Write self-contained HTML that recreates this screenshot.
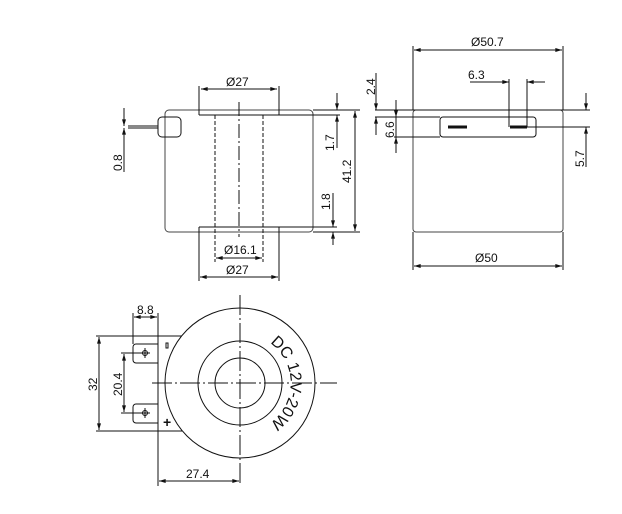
<!DOCTYPE html>
<html><head><style>html,body{margin:0;padding:0;background:#fff}svg{display:block}text{font-family:"Liberation Sans",sans-serif;fill:#111}</style></head>
<body>
<svg width="622" height="514" viewBox="0 0 622 514" xmlns="http://www.w3.org/2000/svg">
<defs>
<marker id="a" viewBox="0 0 10 6" refX="10" refY="3" markerWidth="8" markerHeight="4" orient="auto-start-reverse" markerUnits="userSpaceOnUse"><path d="M0,0L10,3L0,6z" fill="#111"/></marker>
<path id="arc" d="M 270,343 A 49 49 0 0 1 270,423" fill="none"/>
</defs>
<g stroke="#111" stroke-width="1" fill="none">
<rect x="165" y="110" width="148" height="122" rx="4" stroke="#444"/>
<line x1="313" y1="110" x2="360" y2="110"/>
<line x1="199" y1="115" x2="340" y2="115"/>
<line x1="199" y1="227" x2="337" y2="227"/>
<line x1="313" y1="232" x2="360" y2="232"/>
<line x1="199" y1="86" x2="199" y2="115"/><line x1="279" y1="86" x2="279" y2="115"/>
<line x1="199" y1="227" x2="199" y2="281"/><line x1="279" y1="227" x2="279" y2="281"/>
<line x1="215" y1="115" x2="215" y2="262" stroke-dasharray="4,2"/>
<line x1="263" y1="115" x2="263" y2="262" stroke-dasharray="4,2"/>
<line x1="239" y1="102" x2="239" y2="237" stroke-dasharray="14,3,2,3"/>
<line x1="201" y1="89" x2="277" y2="89" marker-start="url(#a)" marker-end="url(#a)"/>
<line x1="216" y1="258" x2="262" y2="258" marker-start="url(#a)" marker-end="url(#a)"/>
<line x1="200" y1="277" x2="278" y2="277" marker-start="url(#a)" marker-end="url(#a)"/>
<line x1="355" y1="111" x2="355" y2="231" marker-start="url(#a)" marker-end="url(#a)"/>
<line x1="337" y1="93" x2="337" y2="110" marker-end="url(#a)"/>
<line x1="337" y1="148" x2="337" y2="115" marker-end="url(#a)"/>
<line x1="333" y1="193" x2="333" y2="227" marker-end="url(#a)"/>
<line x1="333" y1="245" x2="333" y2="232" marker-end="url(#a)"/>
<rect x="158" y="117" width="23" height="20" rx="4"/>
<line x1="128" y1="126" x2="158" y2="126"/><line x1="128" y1="128" x2="158" y2="128"/>
<line x1="124" y1="108" x2="124" y2="126" marker-end="url(#a)"/>
<line x1="124" y1="172" x2="124" y2="128" marker-end="url(#a)"/>
<rect x="413" y="110" width="150" height="122" rx="3" stroke="#444"/>
<line x1="375" y1="110" x2="590" y2="110"/>
<line x1="375" y1="117" x2="440" y2="117"/>
<line x1="394" y1="137" x2="440" y2="137"/>
<line x1="527" y1="127" x2="590" y2="127"/>
<rect x="440" y="117" width="96" height="20" rx="3"/>
<line x1="448" y1="127" x2="467" y2="127" stroke-width="3"/>
<line x1="510" y1="127" x2="527" y2="127" stroke-width="3"/>
<line x1="509" y1="79" x2="509" y2="127"/><line x1="527" y1="79" x2="527" y2="127"/>
<line x1="470" y1="82" x2="509" y2="82" marker-end="url(#a)"/>
<line x1="545" y1="82" x2="527" y2="82" marker-end="url(#a)"/>
<line x1="413" y1="46" x2="413" y2="110"/><line x1="563" y1="46" x2="563" y2="110"/>
<line x1="413" y1="232" x2="413" y2="270"/><line x1="563" y1="232" x2="563" y2="270"/>
<line x1="414" y1="50" x2="562" y2="50" marker-start="url(#a)" marker-end="url(#a)"/>
<line x1="414" y1="266" x2="562" y2="266" marker-start="url(#a)" marker-end="url(#a)"/>
<line x1="376" y1="73" x2="376" y2="110" marker-end="url(#a)"/>
<line x1="376" y1="135" x2="376" y2="117" marker-end="url(#a)"/>
<line x1="396" y1="100" x2="396" y2="117" marker-end="url(#a)"/>
<line x1="396" y1="153" x2="396" y2="137" marker-end="url(#a)"/>
<line x1="396" y1="117" x2="396" y2="137"/>
<line x1="586" y1="93" x2="586" y2="110" marker-end="url(#a)"/>
<line x1="586" y1="167" x2="586" y2="127" marker-end="url(#a)"/>
<circle cx="240" cy="383" r="75"/>
<circle cx="240" cy="383" r="42"/>
<circle cx="240" cy="383" r="25"/>
<line x1="240" y1="295" x2="240" y2="486" stroke-dasharray="20,3,2,3"/>
<line x1="152" y1="383" x2="337" y2="383" stroke-dasharray="20,3,2,3"/>
<polyline points="182,336 158,336 158,431 182,431"/>
<line x1="158" y1="431" x2="158" y2="486"/>
<path d="M158,344 H136 a3,3 0 0 0 -3,3 V360 a3,3 0 0 0 3,3 H158"/>
<path d="M158,404 H136 a3,3 0 0 0 -3,3 V420 a3,3 0 0 0 3,3 H158"/>
<circle cx="145" cy="353" r="2.5"/><line x1="140" y1="353" x2="150" y2="353"/><line x1="145" y1="348" x2="145" y2="358"/>
<circle cx="145" cy="413" r="2.5"/><line x1="140" y1="413" x2="150" y2="413"/><line x1="145" y1="408" x2="145" y2="418"/>
<line x1="133" y1="344" x2="133" y2="313"/><line x1="158" y1="336" x2="158" y2="313"/>
<line x1="134" y1="317" x2="157" y2="317" marker-start="url(#a)" marker-end="url(#a)"/>
<line x1="96" y1="336" x2="158" y2="336"/><line x1="96" y1="431" x2="158" y2="431"/>
<line x1="99" y1="337" x2="99" y2="430" marker-start="url(#a)" marker-end="url(#a)"/>
<line x1="121" y1="353" x2="140" y2="353"/><line x1="121" y1="413" x2="140" y2="413"/>
<line x1="124" y1="354" x2="124" y2="412" marker-start="url(#a)" marker-end="url(#a)"/>
<line x1="159" y1="481" x2="239" y2="481" marker-start="url(#a)" marker-end="url(#a)"/>
<rect x="166" y="343" width="2" height="5"/>
</g>
<g font-size="12">
<text x="226" y="86">Ø27</text>
<text x="224" y="254">Ø16.1</text>
<text x="226" y="274">Ø27</text>
<text transform="translate(351,183) rotate(-90)">41.2</text>
<text transform="translate(334,151) rotate(-90)">1.7</text>
<text transform="translate(330,210) rotate(-90)">1.8</text>
<text transform="translate(122,171) rotate(-90)">0.8</text>
<text x="471" y="46">Ø50.7</text>
<text x="475" y="262">Ø50</text>
<text x="468" y="79">6.3</text>
<text transform="translate(375,95) rotate(-90)">2.4</text>
<text transform="translate(394,138) rotate(-90)">6.6</text>
<text transform="translate(584,167) rotate(-90)">5.7</text>
<text x="137" y="314">8.8</text>
<text transform="translate(97,391) rotate(-90)">32</text>
<text transform="translate(122,396) rotate(-90)">20.4</text>
<text x="186" y="478">27.4</text>
<text x="163" y="427" font-size="14" font-weight="bold">+</text>
<text font-size="16"><textPath href="#arc">DC 12V-20W</textPath></text>
</g>
</svg>
</body></html>
